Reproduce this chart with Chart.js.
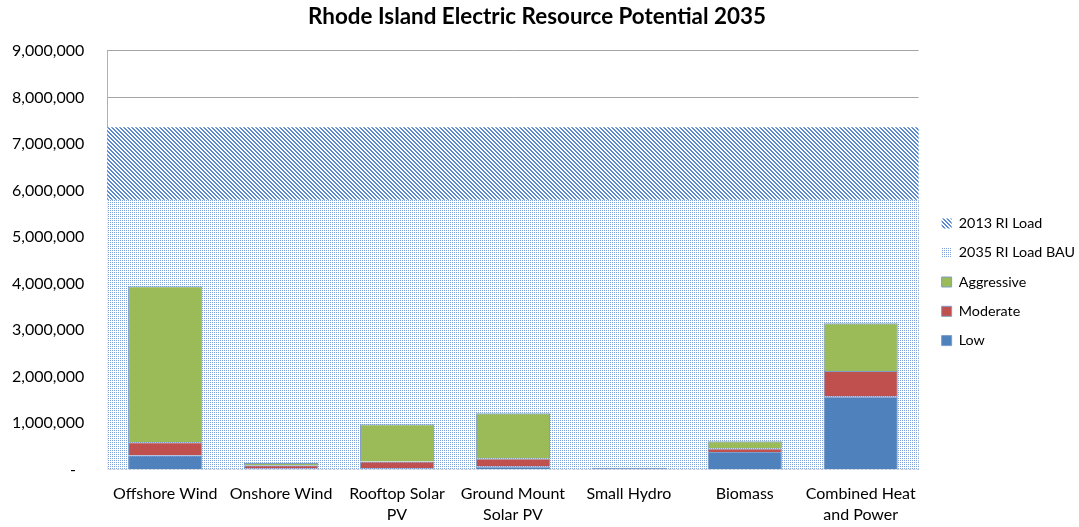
<!DOCTYPE html>
<html>
<head>
<meta charset="utf-8">
<title>Rhode Island Electric Resource Potential 2035</title>
<script src="https://cdn.jsdelivr.net/npm/chart.js@4/dist/chart.umd.min.js"></script>
<style>
  html, body { margin: 0; padding: 0; background: #fff; }
  #wrap { width: 1079px; height: 527px; }
</style>
</head>
<body>
<div id="wrap"><canvas id="potential"></canvas></div>
<script>
'use strict';

var categories = [
    'Offshore Wind',
    'Onshore Wind',
    ['Rooftop Solar', 'PV'],
    ['Ground Mount', 'Solar PV'],
    'Small Hydro',
    'Biomass',
    ['Combined Heat', 'and Power']
];

// MWh by scenario, stacked Low -> Moderate -> Aggressive
var lowValues        = [310000,  30000,  35000,  70000, 38000, 380000, 1575000];
var moderateValues   = [280000,  70000, 145000, 175000,  3000,  78000,  545000];
var aggressiveValues = [3355000, 45000, 800000, 970000,  3000, 158000, 1030000];

// load levels shown as background bands
var load2013    = [7350000, 7350000, 7350000, 7350000, 7350000, 7350000, 7350000];
var load2035BAU = [5790000, 5790000, 5790000, 5790000, 5790000, 5790000, 5790000];

var yTicks = [0, 1000000, 2000000, 3000000, 4000000, 5000000, 6000000, 7000000, 8000000, 9000000];

let ResourceChart = function(){

    var _pattern = function(size, color, isOn){
        var c = document.createElement('canvas');
        c.width = size;
        c.height = size;
        var g = c.getContext('2d');
        g.fillStyle = '#ffffff';
        g.fillRect(0, 0, size, size);
        g.fillStyle = color;
        for (var y = 0; y < size; y++) {
            for (var x = 0; x < size; x++) {
                if (isOn(x, y)) g.fillRect(x, y, 1, 1);
            }
        }
        return g.createPattern(c, 'repeat');
    };

    // full-width band drawn behind the resource bars
    var _band = function(label, values, fill, stack, order){
        return {
            label : label,
            data : values,
            backgroundColor : fill,
            borderWidth : 0,
            barPercentage : 1,
            categoryPercentage : 1,
            inflateAmount : 0.5,
            grouped : false,
            stack : stack,
            order : order
        };
    };

    var _bar = function(label, values, color){
        return {
            label : label,
            data : values,
            backgroundColor : color,
            borderColor : '#7f9dc9',
            borderWidth : 1,
            barPercentage : 0.64,
            categoryPercentage : 1,
            order : 0
        };
    };

    var _draw = function(){
        var ctx = document.getElementById('potential').getContext('2d');

        // wide diagonal hatch for 2013, fine dots for 2035
        var hatch = _pattern(4, '#5a89cf', function(x, y){
            return ((x - y + 8) % 4) < 2;
        });
        var dots = _pattern(2, '#7fa3d8', function(x, y){
            return x === 0 && y === 0;
        });

        var config = {
            type : 'bar',
            data : {
                labels : categories,
                datasets : [
                    _bar('Low', lowValues, '#4f81bd'),
                    _bar('Moderate', moderateValues, '#c0504d'),
                    _bar('Aggressive', aggressiveValues, '#9bbb59'),
                    _band('2035 RI Load BAU', load2035BAU, dots, 'bau', 1),
                    _band('2013 RI Load', load2013, hatch, 'now', 2)
                ]
            },
            options : {
                responsive : true,
                maintainAspectRatio : false,
                animation : false,
                // tick padding is applied on both sides of the labels, so pull the edges back out
                layout : { padding : { left : -11, right : -6, top : 0, bottom : -12 } },
                scales : {
                    x : {
                        stacked : true,
                        z : 1,
                        grid : { display : false, drawTicks : false },
                        border : { display : true, color : '#a0a0a0', width : 1 },
                        ticks : {
                            color : '#000',
                            padding : 13,
                            maxRotation : 0,
                            autoSkip : false,
                            font : { family : 'Lato', size : 16, lineHeight : 1.35 }
                        }
                    },
                    y : {
                        stacked : true,
                        min : 0,
                        max : 9000000,
                        z : 1,
                        afterBuildTicks : function(scale){
                            scale.ticks = yTicks.map(function(v){ return { value : v }; });
                        },
                        grid : {
                            drawTicks : false,
                            color : function(c){
                                return c.tick && c.tick.value >= 8000000 ? '#a6a6a6' : 'rgba(0,0,0,0)';
                            }
                        },
                        border : { display : true, color : '#b0b0b0', width : 1 },
                        ticks : {
                            color : '#000',
                            padding : 23,
                            font : { family : 'Lato', size : 16 },
                            callback : function(v){
                                return v === 0 ? '-  ' : v.toLocaleString('en-US');
                            }
                        }
                    },
                    gap : {
                        type : 'linear',
                        position : 'right',
                        display : true,
                        grid : { display : false },
                        border : { display : false },
                        ticks : { display : false },
                        afterFit : function(scale){ scale.width = 8; }
                    }
                },
                plugins : {
                    title : {
                        display : true,
                        text : 'Rhode Island Electric Resource Potential 2035',
                        color : '#000',
                        font : { family : 'Lato', size : 22.4, weight : 'bold' },
                        padding : { top : 3, bottom : 21 }
                    },
                    legend : {
                        position : 'right',
                        reverse : true,
                        title : {
                            display : true,
                            text : '',
                            font : { size : 10, lineHeight : 1 },
                            padding : { top : 15, bottom : 0 }
                        },
                        labels : {
                            color : '#000',
                            boxWidth : 10,
                            boxHeight : 10,
                            padding : 15,
                            font : { family : 'Lato', size : 14.3 }
                        }
                    },
                    tooltip : { enabled : false }
                }
            }
        };

        window.resource_chart = new Chart(ctx, config);
    };

    return {
        init : function(){
            // measure text only once Lato is ready
            Promise.all([
                document.fonts.load('16px Lato'),
                document.fonts.load('bold 22px Lato')
            ]).then(_draw, _draw);
        }
    }

}();

document.addEventListener('DOMContentLoaded', function(){
    ResourceChart.init();
});
</script>
</body>
</html>
